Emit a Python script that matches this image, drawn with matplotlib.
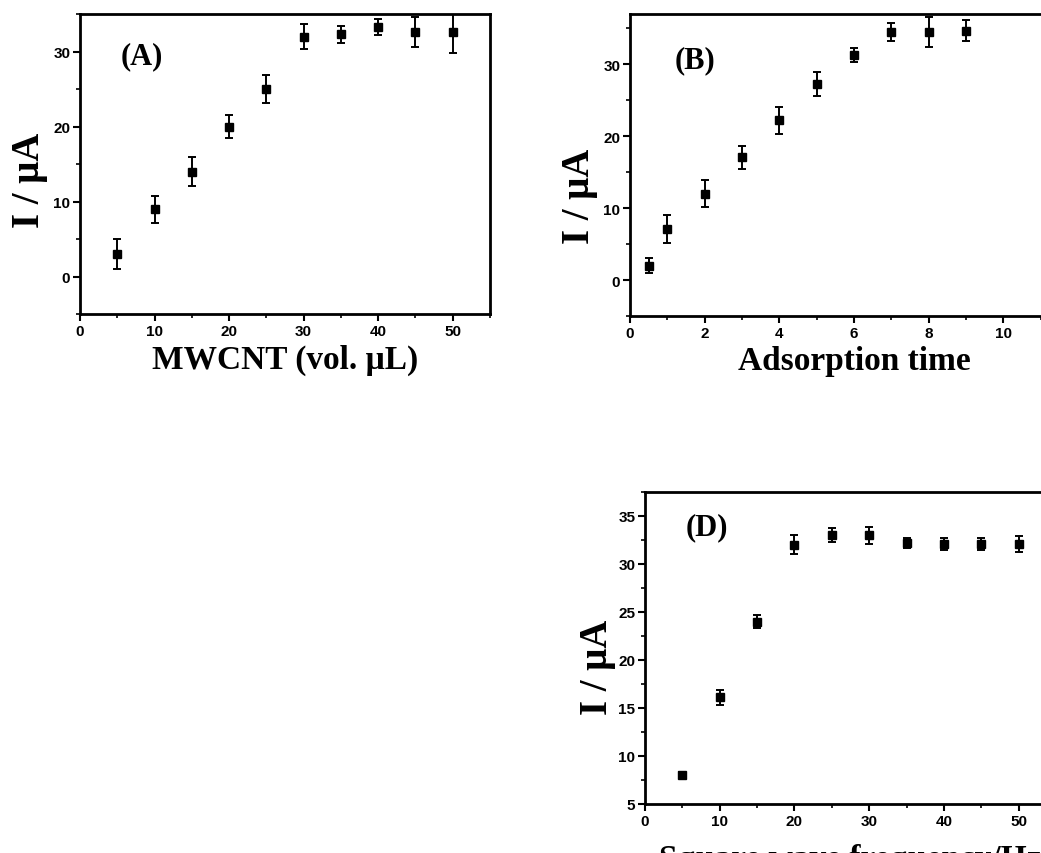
import matplotlib.pyplot as plt
from matplotlib.ticker import MultipleLocator

# panel A: MWCNT volume
vol_ul = [5, 10, 15, 20, 25, 30, 35, 40, 45, 50]
cur_a = [3.0, 9.0, 14.0, 20.0, 25.0, 32.0, 32.3, 33.3, 32.6, 32.6]
err_a = [2.0, 1.8, 1.9, 1.5, 1.9, 1.7, 1.1, 1.1, 2.0, 2.8]

# panel B: adsorption time
ads_time = [0.5, 1, 2, 3, 4, 5, 6, 7, 8, 9]
cur_b = [2.0, 7.1, 12.0, 17.1, 22.2, 27.3, 31.3, 34.5, 34.5, 34.7]
err_b = [1.0, 2.0, 1.9, 1.6, 1.9, 1.7, 1.0, 1.3, 2.1, 1.4]

# panel D: square wave frequency
freq_hz = [5, 10, 15, 20, 25, 30, 35, 40, 45, 50]
cur_d = [8.0, 16.1, 24.0, 32.0, 33.0, 33.0, 32.2, 32.1, 32.1, 32.1]
err_d = [0.3, 0.8, 0.7, 1.0, 0.7, 0.9, 0.5, 0.6, 0.6, 0.8]

W, H = 1041, 854
fig = plt.figure(figsize=(W / 100, H / 100), dpi=100)

serif = 'Liberation Serif'
sans = 'Liberation Sans'


def px_axes(left, top, right, bottom):
    return fig.add_axes([left / W, 1 - bottom / H, (right - left) / W, (bottom - top) / H])


def style(ax, xmaj, ymaj):
    ax.xaxis.set_major_locator(MultipleLocator(xmaj))
    ax.xaxis.set_minor_locator(MultipleLocator(xmaj / 2))
    ax.yaxis.set_major_locator(MultipleLocator(ymaj))
    ax.yaxis.set_minor_locator(MultipleLocator(ymaj / 2))
    ax.tick_params(which='major', direction='out', length=5, width=1.5, labelsize=11, pad=2)
    ax.tick_params(which='minor', direction='out', length=3, width=1.2)
    for lab in ax.get_xticklabels() + ax.get_yticklabels():
        lab.set_fontfamily(sans)
        lab.set_fontweight('bold')
    for sp in ax.spines.values():
        sp.set_linewidth(2)


def draw(ax, x, y, e):
    ax.errorbar(x, y, yerr=e, fmt='s', color='black', ms=5.5, capsize=3,
                elinewidth=1.4, capthick=1.4)


# (A)
axA = px_axes(80, 15, 490, 315)
draw(axA, vol_ul, cur_a, err_a)
axA.set_xlim(0, 55)
axA.set_ylim(-5, 35)
style(axA, 10, 10)
axA.set_xlabel('MWCNT (vol. μL)', fontfamily=serif, fontweight='bold', fontsize=24, labelpad=4)
axA.set_ylabel('I / μA', fontfamily=serif, fontweight='bold', fontsize=28, labelpad=4, y=0.45)
axA.text(0.1, 0.86, '(A)', transform=axA.transAxes, fontfamily=serif,
         fontweight='bold', fontsize=22, ha='left', va='center')

# (B)
axB = px_axes(630, 15, 1078, 317)
draw(axB, ads_time, cur_b, err_b)
axB.set_xlim(0, 12)
axB.set_ylim(-5, 37)
style(axB, 2, 10)
axB.set_xlabel('Adsorption time', fontfamily=serif, fontweight='bold', fontsize=24, labelpad=4)
axB.set_ylabel('I / μA', fontfamily=serif, fontweight='bold', fontsize=28, labelpad=4, y=0.4)
axB.text(0.1, 0.85, '(B)', transform=axB.transAxes, fontfamily=serif,
         fontweight='bold', fontsize=22, ha='left', va='center')

# (D)
axD = px_axes(645, 493, 1056, 805)
draw(axD, freq_hz, cur_d, err_d)
axD.set_xlim(0, 55)
axD.set_ylim(5, 37.5)
style(axD, 10, 5)
axD.set_xlabel('Square wave frequency/Hz', fontfamily=serif, fontweight='bold', fontsize=24, labelpad=11)
axD.set_ylabel('I / μA', fontfamily=serif, fontweight='bold', fontsize=28, labelpad=2, y=0.44)
axD.text(0.1, 0.89, '(D)', transform=axD.transAxes, fontfamily=serif,
         fontweight='bold', fontsize=22, ha='left', va='center')

fig.savefig('out.png', dpi=100)
